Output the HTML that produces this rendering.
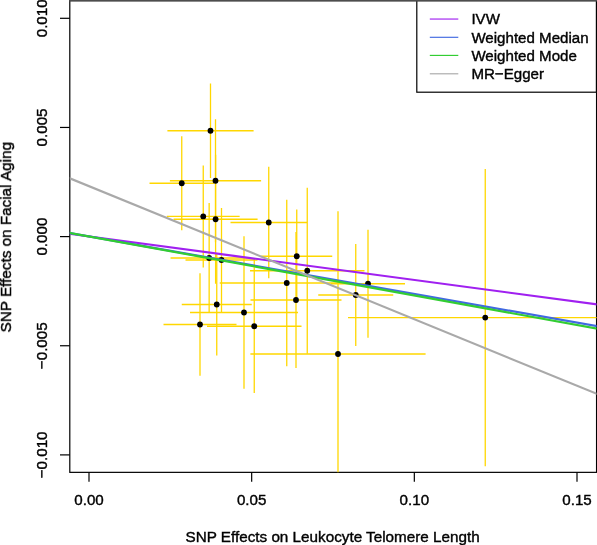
<!DOCTYPE html>
<html><head><meta charset="utf-8"><title>plot</title>
<style>
html,body{margin:0;padding:0;background:#fff;}
body{width:597px;height:545px;overflow:hidden;}
svg{display:block;}
text{font-family:"Liberation Sans",sans-serif;font-size:15px;fill:#000;}
</style></head><body>
<svg width="597" height="545" viewBox="0 0 597 545">
<rect x="0" y="0" width="597" height="545" fill="#fff"/>
<defs><clipPath id="c"><rect x="69.80" y="0.60" width="526.75" height="471.75"/></clipPath></defs>

<rect x="69.80" y="0.60" width="526.75" height="471.75" fill="none" stroke="#000" stroke-width="1.2"/>
<g clip-path="url(#c)">
<g stroke="#FFD700" stroke-width="1.3" fill="none">
<path d="M167.40 130.75H253.60M210.50 83.50V178.00"/>
<path d="M149.50 183.25H214.00M181.75 136.25V230.25"/>
<path d="M169.90 180.75H261.10M215.50 119.25V242.25"/>
<path d="M166.85 216.40H239.65M203.25 165.40V267.40"/>
<path d="M173.60 219.25H257.60M215.60 154.75V283.75"/>
<path d="M230.50 222.50H307.00M268.75 166.75V278.25"/>
<path d="M170.55 258.00H247.75M209.15 203.00V313.00"/>
<path d="M185.50 260.00H257.50M221.50 208.00V312.00"/>
<path d="M261.25 256.25H332.25M296.75 209.50V303.00"/>
<path d="M250.00 270.75H364.50M307.25 187.75V353.75"/>
<path d="M219.75 283.00H353.75M286.75 199.75V366.25"/>
<path d="M331.00 283.75H405.00M368.00 229.75V337.75"/>
<path d="M318.25 295.00H393.25M355.75 244.00V346.00"/>
<path d="M250.50 300.00H341.50M296.00 232.00V368.00"/>
<path d="M181.75 304.50H251.75M216.75 253.50V355.50"/>
<path d="M190.00 312.50H298.00M244.00 236.25V388.75"/>
<path d="M163.50 324.50H236.50M200.00 273.25V375.75"/>
<path d="M207.00 326.25H301.50M254.25 259.50V393.00"/>
<path d="M250.40 354.00H425.60M338.00 211.25V496.75"/>
<path d="M348.00 317.60H622.50M485.25 168.90V466.30"/>
</g>
<g fill="#000">
<circle cx="210.50" cy="130.75" r="2.9"/>
<circle cx="181.75" cy="183.25" r="2.9"/>
<circle cx="215.50" cy="180.75" r="2.9"/>
<circle cx="203.25" cy="216.40" r="2.9"/>
<circle cx="215.60" cy="219.25" r="2.9"/>
<circle cx="268.75" cy="222.50" r="2.9"/>
<circle cx="209.15" cy="258.00" r="2.9"/>
<circle cx="221.50" cy="260.00" r="2.9"/>
<circle cx="296.75" cy="256.25" r="2.9"/>
<circle cx="307.25" cy="270.75" r="2.9"/>
<circle cx="286.75" cy="283.00" r="2.9"/>
<circle cx="368.00" cy="283.75" r="2.9"/>
<circle cx="355.75" cy="295.00" r="2.9"/>
<circle cx="296.00" cy="300.00" r="2.9"/>
<circle cx="216.75" cy="304.50" r="2.9"/>
<circle cx="244.00" cy="312.50" r="2.9"/>
<circle cx="200.00" cy="324.50" r="2.9"/>
<circle cx="254.25" cy="326.25" r="2.9"/>
<circle cx="338.00" cy="354.00" r="2.9"/>
<circle cx="485.25" cy="317.60" r="2.9"/>
</g>
<line x1="67.80" y1="233.60" x2="598.55" y2="304.61" stroke="#A020F0" stroke-width="2.20"/>
<line x1="67.80" y1="232.67" x2="598.55" y2="326.45" stroke="#4169E1" stroke-width="2.20"/>
<line x1="67.80" y1="232.56" x2="598.55" y2="328.94" stroke="#32CD32" stroke-width="2.20"/>
<line x1="67.80" y1="177.50" x2="598.55" y2="394.58" stroke="#A9A9A9" stroke-width="2.10"/>
</g>
<rect x="416.8" y="0.6" width="179.6" height="91.6" fill="#fff" stroke="#000" stroke-width="1.2"/>
<rect x="69.15" y="0" width="528.05" height="1.5" fill="#4d4d4d"/>
<g stroke="#000" stroke-width="1.2">
<line x1="60" y1="18.30" x2="69.80" y2="18.30"/>
<line x1="60" y1="127.45" x2="69.80" y2="127.45"/>
<line x1="60" y1="236.60" x2="69.80" y2="236.60"/>
<line x1="60" y1="345.75" x2="69.80" y2="345.75"/>
<line x1="60" y1="454.90" x2="69.80" y2="454.90"/>
<line x1="89.00" y1="472.35" x2="89.00" y2="481.8"/>
<line x1="251.67" y1="472.35" x2="251.67" y2="481.8"/>
<line x1="414.33" y1="472.35" x2="414.33" y2="481.8"/>
<line x1="577.00" y1="472.35" x2="577.00" y2="481.8"/>
</g>
<line x1="429.8" y1="19.05" x2="458.3" y2="19.05" stroke="#A020F0" stroke-width="1.15"/>
<line x1="429.8" y1="37.30" x2="458.3" y2="37.30" stroke="#4169E1" stroke-width="1.15"/>
<line x1="429.8" y1="55.40" x2="458.3" y2="55.40" stroke="#32CD32" stroke-width="1.15"/>
<line x1="429.8" y1="73.80" x2="458.3" y2="73.80" stroke="#A9A9A9" stroke-width="1.15"/>
<g opacity="0.999" stroke="#000" stroke-width="0.40">
<text x="89.00" y="505.3" text-anchor="middle" style="font-size:15.15px">0.00</text>
<text x="251.67" y="505.3" text-anchor="middle" style="font-size:15.15px">0.05</text>
<text x="414.33" y="505.3" text-anchor="middle" style="font-size:15.15px">0.10</text>
<text x="577.00" y="505.3" text-anchor="middle" style="font-size:15.15px">0.15</text>
<text transform="translate(47.1 18.30) rotate(-90)" text-anchor="middle" style="font-size:15.2px">0.010</text>
<text transform="translate(47.1 127.45) rotate(-90)" text-anchor="middle" style="font-size:15.2px">0.005</text>
<text transform="translate(47.1 236.60) rotate(-90)" text-anchor="middle" style="font-size:15.2px">0.000</text>
<text transform="translate(47.1 345.75) rotate(-90)" text-anchor="middle" style="font-size:15.2px">−0.005</text>
<text transform="translate(47.1 454.90) rotate(-90)" text-anchor="middle" style="font-size:15.2px">−0.010</text>
<text x="332.6" y="541.5" text-anchor="middle" style="font-size:15.25px">SNP Effects on Leukocyte Telomere Length</text>
<text transform="translate(11.0 237.2) rotate(-90)" text-anchor="middle" style="font-size:15.27px">SNP Effects on Facial Aging</text>
<text x="471.4" y="24.35" style="font-size:15.1px">IVW</text>
<text x="471.4" y="42.65" style="font-size:15.1px">Weighted Median</text>
<text x="471.4" y="61.00" style="font-size:15.1px">Weighted Mode</text>
<text x="471.4" y="79.30" style="font-size:15.1px">MR−Egger</text>
</g>
</svg></body></html>
